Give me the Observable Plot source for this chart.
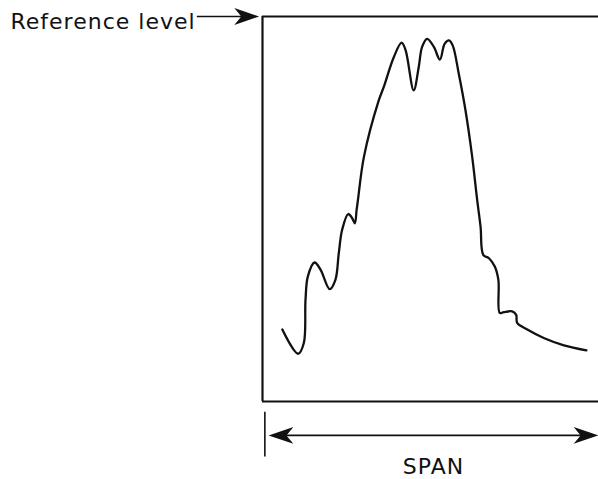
<!DOCTYPE html>
<html>
<head>
<meta charset="utf-8">
<script src="https://cdn.jsdelivr.net/npm/d3@7"></script>
<script src="https://cdn.jsdelivr.net/npm/@observablehq/plot@0.6"></script>
<style>
  html, body { margin: 0; padding: 0; background: #fff; }
  #chart { width: 598px; height: 479px; }
  #chart text { letter-spacing: 1px; }
</style>
</head>
<body>
<div id="chart"></div>
<script>
// Position across the span (% of span) and displayed level (% of reference level)
const spanPct = [5.9, 10.6, 12.3, 12.8, 13.5, 15.5, 17.3, 20.0, 21.7, 22.7, 23.7, 25.5, 26.7, 27.5, 28.0, 28.4,
  30.2, 34.6, 36.1, 39.1, 41.4, 42.6, 45.0, 46.5, 47.5, 49.0, 51.0, 52.8, 54.2, 55.5, 56.6, 58.4, 60.4, 62.4,
  63.9, 64.9, 65.7, 67.4, 69.1, 70.2, 70.6, 71.8, 74.3, 75.5, 75.8, 78.8, 83.7, 89.7, 96.4];
const level = [18.7, 12.4, 15.2, 26.4, 32.5, 36.1, 34.2, 29.2, 31.6, 38.5, 44.6, 48.7, 47.6, 46.3, 49.7, 52.3,
  63.6, 78.2, 81.7, 89.5, 93.2, 91.2, 80.8, 86.9, 92.1, 94.2, 92.1, 88.8, 92.9, 93.8, 92.5, 85.2, 75.7, 63.6,
  52.3, 45.4, 38.1, 37.2, 35.1, 31.6, 23.0, 23.2, 23.4, 22.5, 20.4, 18.7, 16.5, 14.6, 13.3];
const referenceLabel = "Reference level";
const spanLabel = "SPAN";

const trace = spanPct.map((x, i) => ({x, y: level[i]}));

// Filled, elongated arrowhead symbol pointing right (tip at origin)
const arrowHead = {
  draw(context, size) {
    const L = Math.sqrt(size);
    context.moveTo(0, 0);
    context.lineTo(-L, -L * 0.34);
    context.lineTo(-L * 0.72, 0);
    context.lineTo(-L, L * 0.34);
    context.closePath();
  }
};

const font = "'DejaVu Sans', sans-serif";

const chart = Plot.plot({
  width: 598,
  height: 479,
  marginLeft: 262,
  marginRight: 0,
  marginTop: 16,
  marginBottom: 78,
  x: {domain: [0, 100], axis: null},
  y: {domain: [0, 100], axis: null},
  style: {fontFamily: font, background: "#fff"},
  marks: [
    // Display frame (top, bottom, left)
    Plot.ruleY([100, 0], {stroke: "#111", strokeWidth: 2.2}),
    Plot.ruleX([0], {stroke: "#111", strokeWidth: 2.2}),
    // Spectrum trace
    Plot.line(trace, {x: "x", y: "y", curve: "catmull-rom", stroke: "#111", strokeWidth: 2.3}),
    // Reference level pointer
    Plot.ruleY([100], {x1: -19.4, x2: -3, stroke: "#111", strokeWidth: 1.6}),
    Plot.dot([100], {x: -1.0, y: d => d, symbol: arrowHead, r: 14, fill: "#111", stroke: "none"}),
    Plot.text([referenceLabel], {frameAnchor: "top-left", dx: -252, dy: 12, textAnchor: "start", lineAnchor: "bottom",
      fontSize: 22, fill: "#111"}),
    // SPAN indicator
    Plot.ruleX([0.7], {y1: -2.8, y2: -14.4, stroke: "#111", strokeWidth: 1.6}),
    Plot.ruleY([-8.8], {x1: 4, x2: 97, stroke: "#111", strokeWidth: 1.6}),
    Plot.dot([-8.8], {x: 1.8, y: d => d, symbol: arrowHead, rotate: 180, r: 14, fill: "#111", stroke: "none"}),
    Plot.dot([-8.8], {x: 100, y: d => d, symbol: arrowHead, r: 14, fill: "#111", stroke: "none"}),
    Plot.text([spanLabel], {frameAnchor: "bottom", dx: 3, dy: 72, textAnchor: "middle", lineAnchor: "bottom",
      fontSize: 22, fill: "#111"})
  ]
});
document.getElementById("chart").appendChild(chart);
</script>
</body>
</html>
